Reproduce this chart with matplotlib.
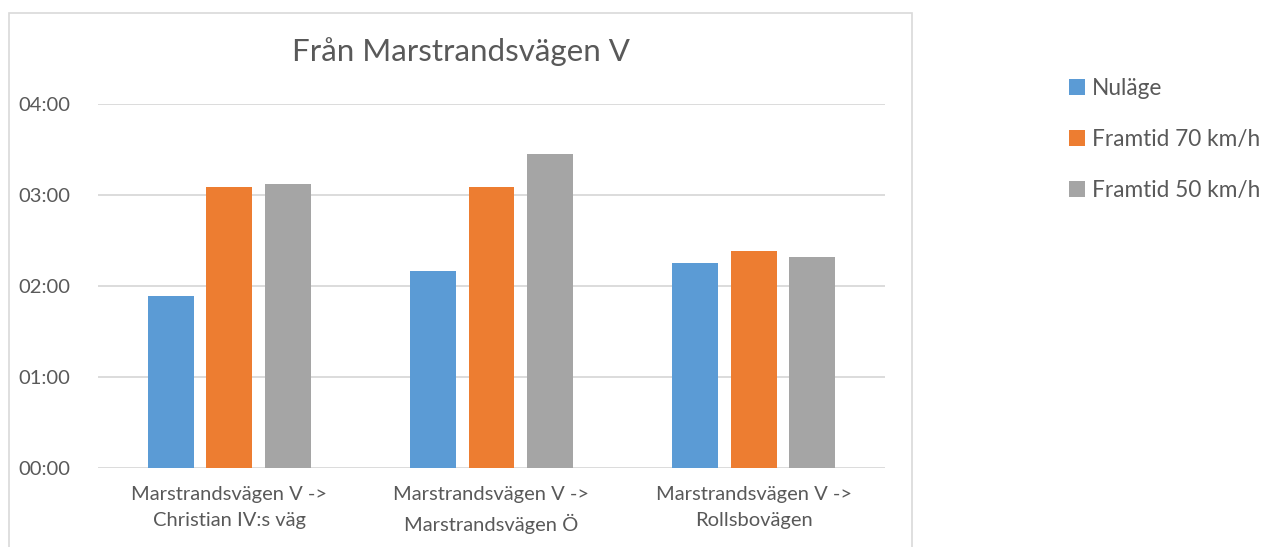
import matplotlib
matplotlib.use("Agg")
import matplotlib.pyplot as plt
import numpy as np
from matplotlib.patches import Rectangle
from matplotlib.ticker import FuncFormatter, MultipleLocator

categories = ["Marstrandsvägen V ->\nChristian IV:s väg",
              "Marstrandsvägen V ->\nMarstrandsvägen Ö",
              "Marstrandsvägen V ->\nRollsbovägen"]
series_names = ["Nuläge", "Framtid 70 km/h", "Framtid 50 km/h"]
# travel times in seconds
nulage = [113, 130, 135]
framtid70 = [185, 185, 143]
framtid50 = [187, 207, 139]
colors = ["#5B9BD5", "#ED7D31", "#A5A5A5"]

plt.rcParams['font.family'] = ['Lato', 'DejaVu Sans']
txt = "#595959"

fig = plt.figure(figsize=(12.73, 5.47), dpi=100)
W, H = 1273, 547
# chart area border
fig.patches.append(Rectangle((9 / W, -0.05), (912 - 9) / W, 1.05 - 13 / H,
                             transform=fig.transFigure, fill=False,
                             edgecolor="#d9d9d9", linewidth=1.2))

ax = fig.add_axes([98 / W, 1 - 467.6 / H, (885 - 98) / W, (467.6 - 104) / H])
x = np.arange(len(categories))
width = 0.175
step = 0.223
data = [nulage, framtid70, framtid50]
for i, (vals, name, c) in enumerate(zip(data, series_names, colors)):
    ax.bar(x + (i - 1) * step, vals, width, color=c, label=name, zorder=3)

ax.set_xlim(-0.5, len(categories) - 0.5)
ax.set_ylim(0, 240)
ax.yaxis.set_major_locator(MultipleLocator(60))
ax.yaxis.set_major_formatter(FuncFormatter(lambda v, p: f"{int(v)//60:02d}:{int(v)%60:02d}"))
ax.grid(axis="y", color="#d9d9d9", linewidth=1.3, zorder=0)
for s in ax.spines.values():
    s.set_visible(False)
ax.tick_params(axis="both", length=0, colors=txt)
ax.tick_params(axis="y", pad=20, labelsize=14.5)
ax.tick_params(axis="x", pad=13, labelsize=14.5)
ax.set_xticks(x)
ax.set_xticklabels(categories, linespacing=1.65)

fig.text(461 / W, 1 - 52 / H, "Från Marstrandsvägen V", ha="center", va="center",
         fontsize=22.5, color=txt)

handles, labels = ax.get_legend_handles_labels()
leg = fig.legend(handles, labels, loc="upper left", bbox_to_anchor=(1058 / W, 1 - 67 / H),
                 frameon=False, fontsize=16.3, labelcolor=txt, handlelength=0.7,
                 handleheight=0.7, handletextpad=0.3, labelspacing=1.32, borderpad=0)

fig.savefig("out.png", dpi=100)
